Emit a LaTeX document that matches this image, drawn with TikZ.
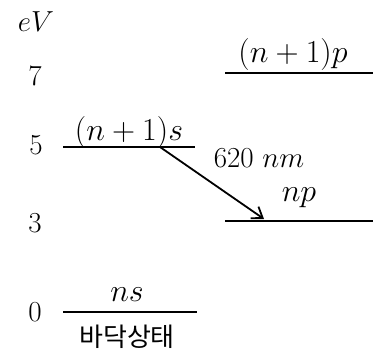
\documentclass[tikz,border=0pt]{standalone}
\usepackage{fix-cm}
\usepackage{fontspec}
\newfontfamily\krfont{Noto Sans CJK KR}
\usetikzlibrary{arrows.meta,positioning}

\begin{document}
\begin{tikzpicture}[x=1pt, y=-1pt, font=\fontsize{29}{34}\selectfont,
  level/.style={line width=2pt},
  lbl/.style={above, inner sep=2pt, text height=0.75em, text depth=0.35em,
    font=\fontsize{32}{36}\selectfont},
  trans/.style={-{Straight Barb[length=10pt,width=14pt]}, line width=1.8pt}]
\useasboundingbox (0,0) rectangle (390,351);
% energy scale
\node (unit) at (36,22) {$eV$};
\node (e7) at (35,76) {7};
\node (e5) at (36,145) {5};
\node (e3) at (35,223) {3};
\node (e0) at (35,312) {0};
% levels
\draw[level] (63,147) -- node[lbl] (s1) {$(n+1)s$} (195,147);
\draw[level] (225,73) -- node[lbl, xshift=-6pt, yshift=4pt] (p1) {$(n+1)p$} (373,73);
\draw[level] (225,221) -- node[lbl, yshift=13pt] (p0) {$np$} (373,221);
\draw[level] (63,312) -- node[lbl, xshift=-3pt, yshift=4pt] (s0) {$ns$} (197,312);
\node[below=0pt of s0.south, yshift=-13pt, font=\fontsize{26}{30}\krfont] (ground) {바닥상태};
% transition
\coordinate (src) at (160,147);
\coordinate (dst) at (264,219);
\draw[trans] (src) -- (dst);
\node (wave) at (259,158) {620 $nm$};
\end{tikzpicture}
\end{document}
